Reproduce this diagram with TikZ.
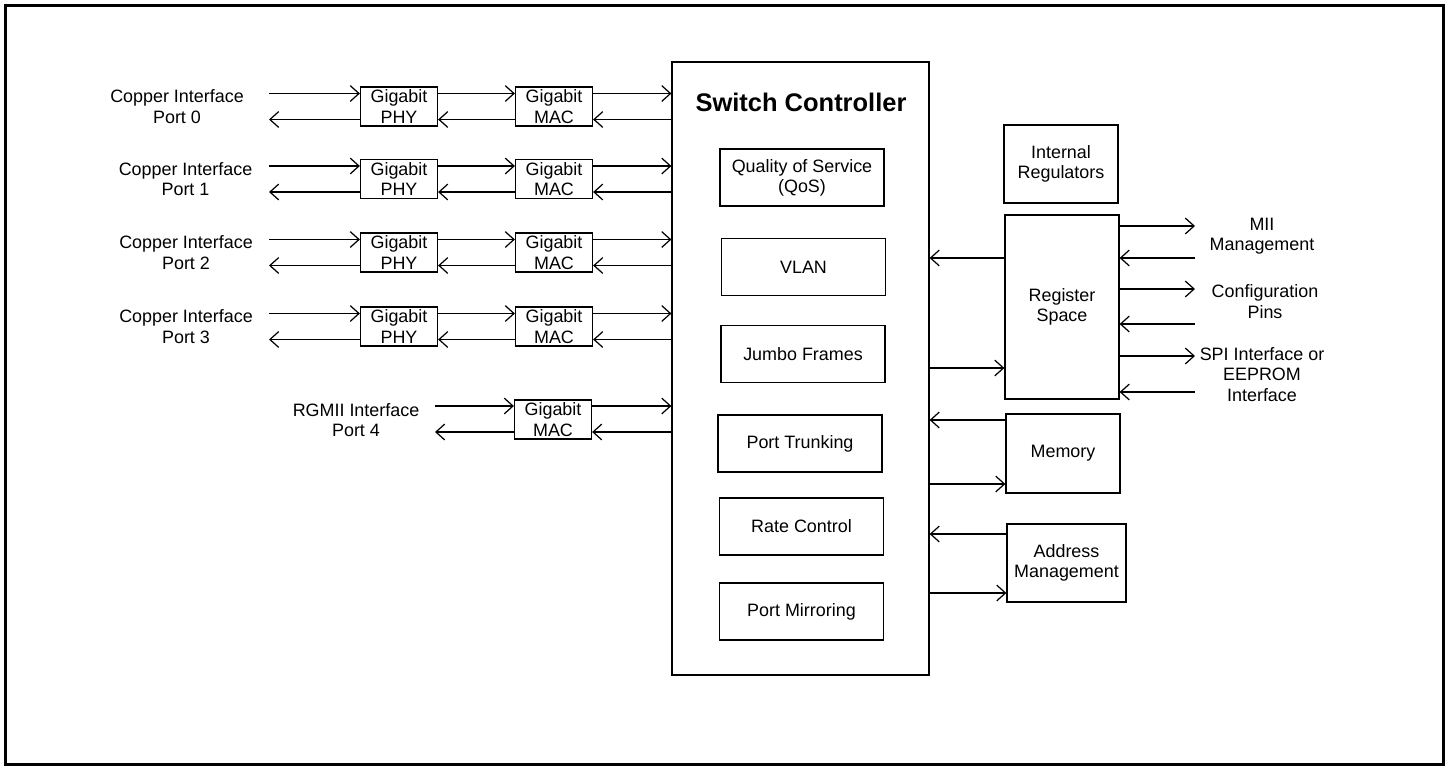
\documentclass[tikz,border=0pt]{standalone}
\usepackage{fontspec}
\setmainfont{Liberation Sans}
\usetikzlibrary{arrows.meta}

\begin{document}
\begin{tikzpicture}[x=0.02cm,y=-0.02cm,line width=0.7pt,
        >={Straight Barb[length=5pt,width=9pt]},
        txt/.style={align=center,font=\fontsize{10.2}{11.5}\selectfont},
        blk/.style={draw,txt,inner sep=0pt,minimum width=1.54cm,minimum height=0.78cm},
        feat/.style={blk,minimum width=3.28cm,minimum height=1.14cm},
        side/.style={blk,minimum width=2.28cm,minimum height=1.56cm}]
        \useasboundingbox (0,0) rectangle (1447,768);
        \draw[line width=1.7pt] (5.5,5.5) rectangle (1443,764.5);

        % switch controller and its features
        \node[draw,minimum width=5.14cm,minimum height=12.26cm] (sc) at (800.5,368.5) {};
        \node[font=\fontsize{14.5}{17}\selectfont\bfseries] (sctitle) at (801,102) {Switch Controller};
        \node[feat] (qos) at (802,177.5) {Quality of Service\\(QoS)};
        \node[feat] (vlan) at (803.5,267) {VLAN};
        \node[feat] (jumbo) at (803,354) {Jumbo Frames};
        \node[feat] (trunk) at (800,443.5) {Port Trunking};
        \node[feat] (rate) at (801.5,526.5) {Rate Control};
        \node[feat] (mirror) at (801.5,611.5) {Port Mirroring};

        % copper ports
        \coordinate (lend) at (269,0);
        \foreach \i/\y/\lx in {0/106.5/177,1/179/185.5,2/252.5/186,3/326.5/186}{
            \node[txt] (cu\i) at (\lx,\y) {Copper Interface\\Port \i};
            \node[blk] (phy\i) at (399,\y) {Gigabit\\PHY};
            \node[blk] (mac\i) at (554,\y) {Gigabit\\MAC};
            \draw[->] (lend |- 0,\y-13) -- (phy\i.west |- 0,\y-13);
            \draw[<-] (lend |- 0,\y+13) -- (phy\i.west |- 0,\y+13);
            \draw[->] (phy\i.east |- 0,\y-13) -- (mac\i.west |- 0,\y-13);
            \draw[<-] (phy\i.east |- 0,\y+13) -- (mac\i.west |- 0,\y+13);
            \draw[->] (mac\i.east |- 0,\y-13) -- (sc.west |- 0,\y-13);
            \draw[<-] (mac\i.east |- 0,\y+13) -- (sc.west |- 0,\y+13);
        }

        % rgmii port
        \coordinate (rgend) at (435,0);
        \node[txt] (rg) at (356,420) {RGMII Interface\\Port 4};
        \node[blk] (mac4) at (553,419.5) {Gigabit\\MAC};
        \draw[->] (rgend |- 0,406) -- (mac4.west |- 0,406);
        \draw[<-] (rgend |- 0,432) -- (mac4.west |- 0,432);
        \draw[->] (mac4.east |- 0,406) -- (sc.west |- 0,406);
        \draw[<-] (mac4.east |- 0,432) -- (sc.west |- 0,432);

        % right side blocks
        \node[side] (regul) at (1061,164) {Internal\\Regulators};
        \node[side,minimum height=3.68cm] (regs) at (1062,307) {Register\\Space};
        \node[side,minimum height=1.58cm] (mem) at (1063,453.5) {Memory};
        \node[side,minimum width=2.38cm] (addr) at (1066.5,563) {Address\\Management};

        \draw[->] (regs.west |- 0,258) -- (sc.east |- 0,258);
        \draw[->] (sc.east |- 0,368) -- (regs.west |- 0,368);
        \draw[->] (mem.west |- 0,420) -- (sc.east |- 0,420);
        \draw[->] (sc.east |- 0,484) -- (mem.west |- 0,484);
        \draw[->] (addr.west |- 0,534) -- (sc.east |- 0,534);
        \draw[->] (sc.east |- 0,593) -- (addr.west |- 0,593);

        % external management pins
        \coordinate (rend) at (1195,0);
        \node[txt] (mii) at (1262,236.5) {MII\\Management};
        \node[txt] (cfg) at (1265,301.5) {Configuration\\Pins};
        \node[txt] (spi) at (1262,374.5) {SPI Interface or\\EEPROM\\Interface};
        \draw[->] (regs.east |- 0,226) -- (rend |- 0,226);
        \draw[<-] (regs.east |- 0,258) -- (rend |- 0,258);
        \draw[->] (regs.east |- 0,289) -- (rend |- 0,289);
        \draw[<-] (regs.east |- 0,324) -- (rend |- 0,324);
        \draw[->] (regs.east |- 0,356) -- (rend |- 0,356);
        \draw[<-] (regs.east |- 0,392) -- (rend |- 0,392);
    \end{tikzpicture}
\end{document}
